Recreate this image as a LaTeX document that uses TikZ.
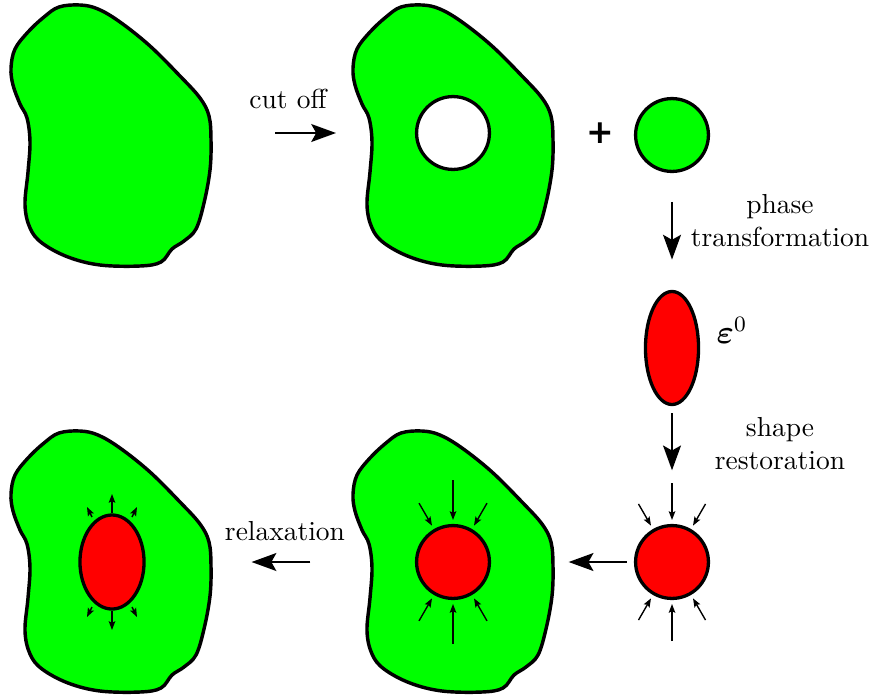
\documentclass[tikz,border=0pt]{standalone}
\usepackage{amsmath}
\usepackage{fontspec}
\newfontfamily\plusfont{DejaVu Sans}
\usetikzlibrary{arrows.meta,shapes.geometric,calc}
\begin{document}
\begin{tikzpicture}[x=0.36364pt,y=-0.36364pt,
  matter/.style={draw=black,fill=green,line width=1.25pt,line join=round},
  bead/.style={circle,draw=black,line width=1.2pt,inner sep=0pt,minimum size=26.5pt},
  flow/.style={line width=0.8pt,-{Stealth[length=9pt,width=6.5pt,inset=1.8pt]}},
  push/.style={line width=0.5pt,-{Stealth[length=3.2pt,width=2.4pt,inset=0.6pt]}},
  caption/.style={font=\normalsize,inner sep=0pt},
  grain/.pic={
    \path[matter] plot[smooth cycle,tension=0.6] coordinates{
      (44,17) (59,7) (80,5) (98,9) (120,22) (150,46) (180,76) (200,98)
      (209,116) (211,140) (210,170) (204,203) (196,229) (184,241) (172,249)
      (161,262) (140,266) (100,265) (68,257) (42,243) (30,228) (25,205)
      (28,172) (30,142) (27,118) (20,104) (13,85) (11,68) (15,49) (28,32)};
  }]
\useasboundingbox (0,0) rectangle (875,699);

% the four pieces of matrix
\pic at (0,0) {grain};
\pic at (342,0) {grain};
\pic at (0,426) {grain};
\pic at (342,426) {grain};

% top row: cutting the region out
\node[bead,fill=white] (hole) at (453,133) {};
\node[bead,fill=green] (seed) at (672,135) {};
\node[font=\large\plusfont\bfseries,inner sep=0pt] (plus) at (600,133) {+};
\coordinate (cutA) at (275,133);
\coordinate (cutB) at (336,133);
\draw[flow] (cutA) -- (cutB);
\node[caption,anchor=base] (cutlbl) at (288,108) {cut off};

% transformed, eigenstrained inclusion
\node[ellipse,draw=black,fill=red,line width=1.2pt,inner sep=0pt,
      minimum width=19.3pt,minimum height=41.1pt] (eig) at (672,348) {};
\node[anchor=base west,inner sep=0pt,font=\large] (eps) at (716,343) {$\boldsymbol{\varepsilon}^0$};
\draw[flow,shorten <=10.5pt,shorten >=11pt] (seed) -- (eig);
\node[caption,align=center] (phlbl) at (780,221) {phase\\transformation};

% restored inclusion with surface tractions
\node[bead,fill=red] (fit) at (672,562) {};
\draw[flow,shorten <=2.5pt,shorten >=19.5pt] (eig) -- (fit);
\node[caption,align=center] (shlbl) at (780,444) {shape\\restoration};
\foreach \a/\r in {-90/79,-60/67,-120/67,90/79,60/67,120/67}
  \draw[push] ($(fit)+(\a:\r)$) -- ($(fit)+(\a:42)$);

% inserted back into the hole
\node[bead,fill=red] (mid) at (453,562) {};
\draw[flow,shorten <=2.7pt,shorten >=28.2pt] (fit) -- (mid);
\foreach \a/\r in {-90/82,-60/68,-120/68,90/82,60/68,120/68}
  \draw[push] ($(mid)+(\a:\r)$) -- ($(mid)+(\a:42)$);

% relaxed inclusion
\node[ellipse,draw=black,fill=red,line width=1.2pt,inner sep=0pt,
      minimum width=23.3pt,minimum height=34.2pt] (relax) at (112,562) {};
\draw[flow,shorten <=38pt,shorten >=38.5pt] (mid) -- (relax);
\node[caption,anchor=base] (rxlbl) at (285,540) {relaxation};
\foreach \dx/\dy/\ex/\ey in {0/-49/0/-68,-20/-45/-25/-55,20/-45/25/-55,
                              0/49/0/68,-20/45/-25/55,20/45/25/55}
  \draw[push] ($(relax)+(\dx,\dy)$) -- ($(relax)+(\ex,\ey)$);
\end{tikzpicture}
\end{document}
